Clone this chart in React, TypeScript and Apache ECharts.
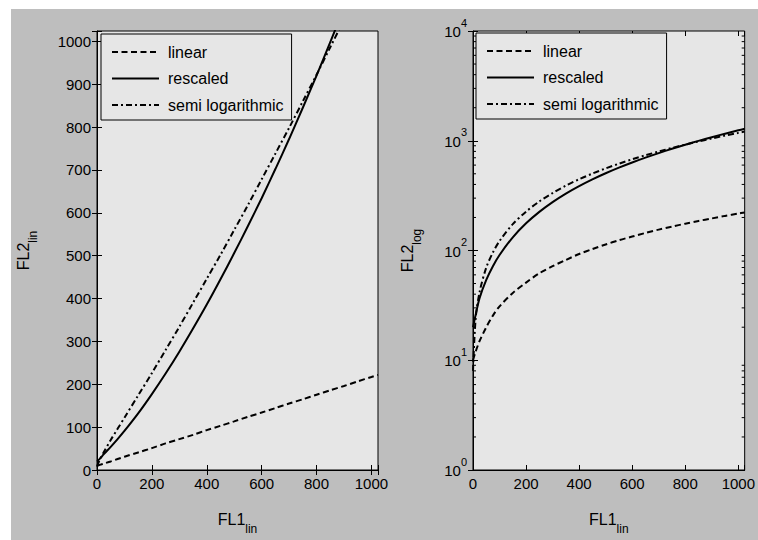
import React, { useEffect, useRef } from "react";
import * as echarts from "echarts";

// FL1 channel values (x)
const FL1 = [0, 10, 25, 50, 75, 100, 150, 200, 250, 300, 350, 400, 450, 500, 550, 600, 650, 700, 750, 800, 850, 900, 950, 1000, 1024];
// FL2 values for each method
const LINEAR = [10, 12, 15, 20, 25.5, 31, 41, 51, 62, 72, 82, 93, 103, 113.5, 124, 134, 144.5, 155, 165, 175.6, 186, 196, 206.7, 217, 222];
const RESCALED = [20, 26, 37, 54, 72, 91, 132, 177, 225, 276, 330, 386, 445, 506, 569, 634, 702, 772, 845, 920, 998, 1078, 1160, 1244, 1285];
const SEMILOG = [8, 24, 42, 70, 96, 122, 174, 226, 280, 334, 390, 446, 502, 560, 618, 678, 738, 798, 860, 922, 986, 1050, 1114, 1180, 1212];

// minor tick values of the logarithmic axis
const LOG_MINOR = [2, 3, 4, 5, 6, 7, 8, 9, 20, 30, 40, 50, 60, 70, 80, 90, 200, 300, 400, 500, 600, 700, 800, 900, 2000, 3000, 4000, 5000, 6000, 7000, 8000, 9000];

const SERIES_NAMES = ["linear", "rescaled", "semi logarithmic"];
const DASHES: any[] = [[6, 3.5], "solid", [6, 3, 2, 3]];
const VALUES = [LINEAR, RESCALED, SEMILOG];

const FONT = "Liberation Sans";

export default function App() {
  const ref = useRef<HTMLDivElement>(null);
  useEffect(() => {
    if (!ref.current) return;
    const chart = echarts.init(ref.current, undefined, { renderer: "svg" });
    const tickCommon = { show: true, inside: true, length: 5, lineStyle: { color: "#000", width: 1 } };
    const labelStyle = { color: "#000", fontFamily: FONT, fontSize: 15 };
    const nameRich = {
      a: { fontSize: 16, fontFamily: FONT, color: "#000", verticalAlign: "top", lineHeight: 24 },
      s: { fontSize: 12, fontFamily: FONT, color: "#000", verticalAlign: "bottom", lineHeight: 24 },
    };
    const grids = [
      { left: 86, top: 22, width: 281, height: 460 },
      { left: 462, top: 22, width: 283, height: 460 },
    ].map((g) => ({ ...g, show: true, backgroundColor: "#e6e6e6", borderColor: "#000", borderWidth: 1 }));

    const xAxes: any[] = [];
    const yAxes: any[] = [];
    [0, 1].forEach((gi) => {
      const xBase = {
        type: "value",
        gridIndex: gi,
        min: 0,
        max: 1024,
        interval: 200,
        splitLine: { show: false },
        axisTick: tickCommon,
      };
      xAxes.push({
        ...xBase,
        position: "bottom",
        name: "{a|FL1}{s|lin}",
        nameLocation: "middle",
        nameGap: 41,
        nameTextStyle: { rich: nameRich },
        axisLine: { show: true, lineStyle: { color: "#000", width: 1 } },
        axisLabel: {
          ...labelStyle,
          margin: 6,
          formatter: (v: number) => (v % 200 === 0 ? String(v) : ""),
        },
      });
      xAxes.push({
        ...xBase,
        position: "top",
        axisLine: { show: false },
        axisLabel: { show: false },
      });
    });
    // left grid: linear y
    const yLinBase = {
      type: "value",
      gridIndex: 0,
      min: 0,
      max: 1024,
      interval: 100,
      splitLine: { show: false },
      axisTick: tickCommon,
    };
    yAxes.push({
      ...yLinBase,
      position: "left",
      name: "{a|FL2}{s|lin}",
      nameLocation: "middle",
      nameGap: 58,
      nameRotate: 90,
      nameTextStyle: { rich: nameRich },
      axisLine: { show: true, lineStyle: { color: "#000", width: 1 } },
      axisLabel: { ...labelStyle, margin: 6, formatter: (v: number) => (v % 100 === 0 ? String(v) : "") },
    });
    yAxes.push({ ...yLinBase, position: "right", axisLine: { show: false }, axisLabel: { show: false } });
    // right grid: log y
    const yLogBase = {
      type: "log",
      logBase: 10,
      gridIndex: 1,
      min: 1,
      max: 10000,
      splitLine: { show: false },
      axisTick: tickCommon,
    };
    yAxes.push({
      ...yLogBase,
      position: "left",
      name: "{a|FL2}{s|log}",
      nameLocation: "middle",
      nameGap: 50,
      nameRotate: 90,
      nameTextStyle: { rich: nameRich },
      axisLine: { show: true, lineStyle: { color: "#000", width: 1 } },
      axisLabel: {
        margin: 6,
        formatter: (v: number) => "{b|10}{s|" + Math.round(Math.log10(v)) + "}",
        rich: {
          b: { fontSize: 15, fontFamily: FONT, color: "#000", verticalAlign: "bottom", lineHeight: 22 },
          s: { fontSize: 11, fontFamily: FONT, color: "#000", verticalAlign: "top", lineHeight: 22 },
        },
        padding: [0, 0, 6, 0],
      },
    });
    yAxes.push({ ...yLogBase, position: "right", axisLine: { show: false }, axisLabel: { show: false } });

    const series: any[] = [];
    [0, 1].forEach((gi) => {
      SERIES_NAMES.forEach((name, si) => {
        series.push({
          type: "line",
          name,
          xAxisIndex: gi * 2,
          yAxisIndex: gi * 2,
          data: FL1.map((x, i) => [x, VALUES[si][i]]),
          symbol: "none",
          smooth: 0.3,
          clip: true,
          lineStyle: { color: "#000", width: 2, type: DASHES[si] },
          itemStyle: { color: "#000" },
        });
      });
    });
    // minor ticks of the log axis (left and right edges), placed via the axis scale
    series.push({
      type: "custom",
      name: "minor",
      xAxisIndex: 2,
      yAxisIndex: 2,
      silent: true,
      clip: false,
      data: LOG_MINOR.map((v) => [0, v]),
      renderItem: (params: any, api: any) => {
        const v = api.value(1);
        const l = api.coord([0, v]);
        const r = api.coord([1024, v]);
        const st = { stroke: "#000", lineWidth: 1 };
        return {
          type: "group",
          children: [
            { type: "line", shape: { x1: l[0], y1: l[1], x2: l[0] + 3, y2: l[1] }, style: st },
            { type: "line", shape: { x1: r[0] - 3, y1: r[1], x2: r[0], y2: r[1] }, style: st },
          ],
        };
      },
    });

    const legendBase = {
      orient: "vertical",
      data: SERIES_NAMES,
      backgroundColor: "#e6e6e6",
      borderColor: "#000",
      borderWidth: 1,
      borderRadius: 0,
      padding: [10, 8, 7, 10],
      itemWidth: 47,
      itemHeight: 14,
      itemGap: 10.5,
      selectedMode: false,
      itemStyle: { opacity: 0 },
      textStyle: { color: "#000", fontFamily: FONT, fontSize: 16, padding: [0, 0, 0, 4] },
    };

    chart.setOption({
      animation: false,
      backgroundColor: "#bebebe",
      grid: grids,
      xAxis: xAxes,
      yAxis: yAxes,
      legend: [
        { ...legendBase, left: 90, top: 25 },
        { ...legendBase, left: 465, top: 24 },
      ],
      series,
    });
    return () => chart.dispose();
  }, []);
  return (
    <div
      ref={ref}
      style={{ position: "absolute", left: 11, top: 9, width: 747, height: 531, background: "#bebebe" }}
    />
  );
}
